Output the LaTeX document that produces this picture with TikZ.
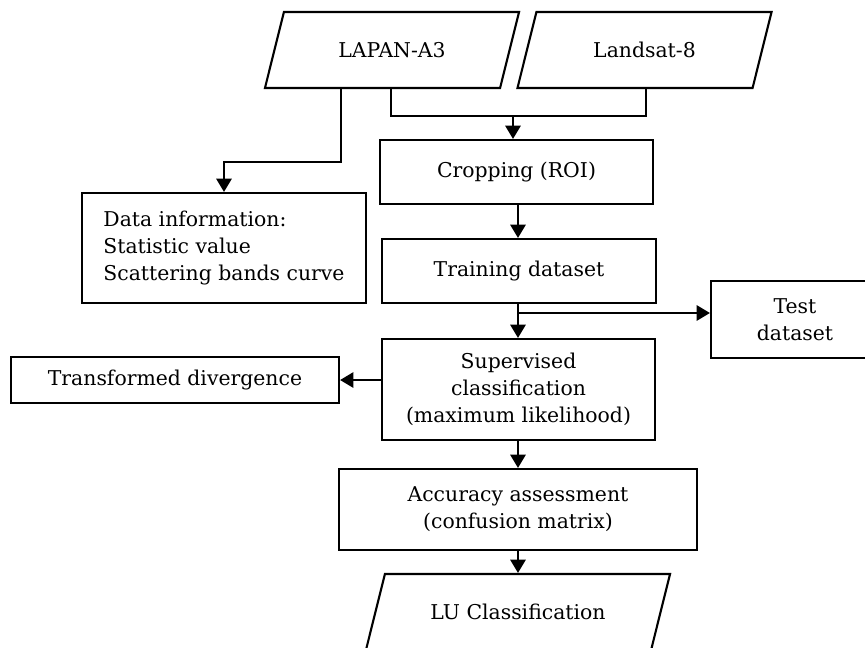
\documentclass[tikz,border=0pt]{standalone}
\usepackage{fontspec}
\setmainfont{DejaVu Serif}
\usepackage{tikz}
\usetikzlibrary{shapes.geometric,arrows.meta}
\tikzset{c-rectangle/.style={rectangle, minimum width=6.825cm, minimum height=1.6cm, align=center, draw=black, line width=1.5pt, fill=white, inner sep=2pt},
c-data/.style={trapezium, trapezium left angle=76, trapezium right angle=104, trapezium stretches body=true, text height=1.135cm, text depth=0.765cm, inner ysep=0pt, inner xsep=2pt, minimum width=6.35cm, minimum height=1.9cm, align=center, draw=black, line width=1.5pt, fill=white},
arrow/.style={line width=1.5pt, -{Triangle[length=0.33cm, width=0.38cm]}},
line/.style={line width=1.5pt}}

\begin{document}
\begin{tikzpicture}[x=0.025cm, y=-0.025cm, font=\fontsize{14.5}{19}\selectfont]
\useasboundingbox (0,0) rectangle (865,648);
% inputs
\node (nlapan) [c-data] at (392,50) {LAPAN-A3};
\node (nlandsat) [c-data] at (644.5,50) {Landsat-8};
% main column
\node (ncrop) [c-rectangle] at (516.5,172) {Cropping (ROI)};
\node (ntrain) [c-rectangle, minimum width=6.85cm] at (519,271) {Training dataset};
\node (nsuperv) [c-rectangle, minimum height=2.525cm] at (518.5,389.5) {
Supervised\\
classification\\
(maximum likelihood)
};
\node (naccur) [c-rectangle, minimum width=8.95cm, minimum height=2.025cm] at (518,509.5) {
Accuracy assessment\\
(confusion matrix)
};
\node (nlu) [c-data, minimum width=7.6cm] at (518,612) {LU Classification};
% side boxes
\node (ndata) [c-rectangle, minimum width=7.1cm, minimum height=2.75cm, align=left] at (224,248) {
Data information:\\
Statistic value\\
Scattering bands curve
};
\node (ntest) [c-rectangle, minimum width=4.2cm, minimum height=1.925cm] at (795,319.5) {
Test\\
dataset
};
\node (ntransf) [c-rectangle, minimum width=8.2cm, minimum height=1.15cm] at (175,380) {Transformed divergence};
% junctions
\coordinate (jl) at (391,116);
\coordinate (jr) at (646,116);
\coordinate (jm) at (513,116);
\coordinate (jd) at (341,162);
\coordinate (jt) at (518,313);
% connectors
\draw [line] (nlapan.south -| jl) -- (jl) -- (jr) -- (nlandsat.south -| jr);
\draw [arrow] (jm) -- (jm |- ncrop.north);
\draw [arrow] (nlapan.south -| jd) -- (jd) -| (ndata.north);
\draw [arrow] (ncrop.south -| jt) -- (jt |- ntrain.north);
\draw [arrow] (ntrain.south -| jt) -- (jt |- nsuperv.north);
\draw [arrow] (jt) -- (jt -| ntest.west);
\draw [arrow] (nsuperv.west |- ntransf) -- (ntransf.east);
\draw [arrow] (nsuperv.south -| jt) -- (jt |- naccur.north);
\draw [arrow] (naccur.south -| jt) -- (jt |- nlu.north);
\end{tikzpicture}
\end{document}
